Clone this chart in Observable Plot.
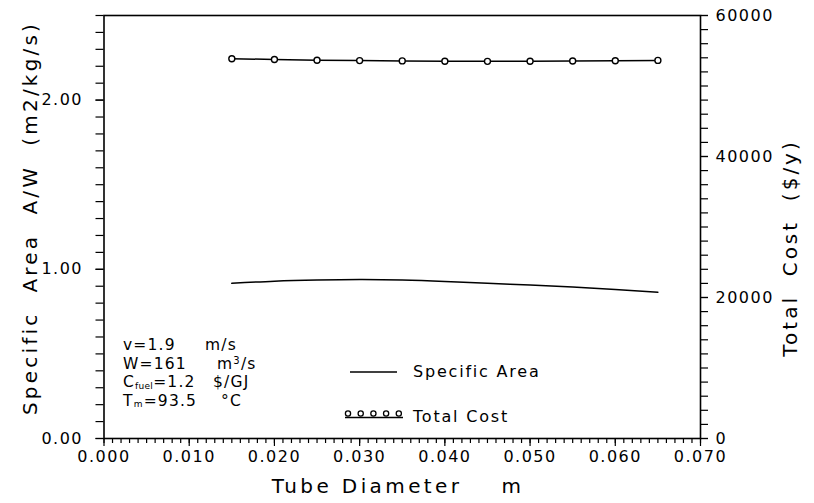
<!DOCTYPE html>
<html><head><meta charset="utf-8">
<script src="https://cdn.jsdelivr.net/npm/d3@7"></script>
<script src="https://cdn.jsdelivr.net/npm/@observablehq/plot@0.6"></script>
<style>
body{margin:0;background:#fff;}
#chart svg text{font-family:"DejaVu Sans",sans-serif;}
</style></head><body><div id="chart"></div>
<script>
// ---- data ----
const diameters = [0.015,0.020,0.025,0.030,0.035,0.040,0.045,0.050,0.055,0.060,0.065];
const specificArea = [0.917,0.930,0.937,0.940,0.937,0.928,0.917,0.907,0.895,0.881,0.864];
const totalCost = [53870,53760,53660,53600,53560,53520,53500,53510,53540,53580,53630];
const xTickLabels = [0,0.01,0.02,0.03,0.04,0.05,0.06,0.07];
const leftTickLabels = [0,1,2];
const rightTickLabels = [0,20000,40000,60000];
const xTitle = "Tube\u00a0Diameter\u00a0\u00a0\u00a0\u00a0m";
const leftTitle = "Specific\u00a0\u00a0Area\u00a0\u00a0A/W\u00a0\u00a0(m2/kg/s)";
const rightTitle = "Total\u00a0\u00a0Cost\u00a0\u00a0($/y)";
const legendLabels = ["Specific Area", "Total Cost"];

const costMax = 60000, areaMax = 2.5;
const toLeft = c => c * areaMax / costMax;
const rows = diameters.map((d,i)=>({d, area: specificArea[i], cost: totalCost[i]}));

const svg = Plot.plot({
  width: 814, height: 503,
  marginLeft: 103.5, marginRight: 114, marginTop: 15, marginBottom: 65,
  x: {domain:[0,0.07], label:null},
  y: {domain:[0,areaMax], label:null},
  style: {fontFamily:"DejaVu Sans, sans-serif", fontSize:"16px", color:"black", background:"white", letterSpacing:"1.5px"},
  marks: [
    Plot.axisX({ticks: d3.range(0,71).map(i=>i/1000), tickSize:5, tickFormat: ()=>"", strokeWidth:1.2, label:null}),
    Plot.axisX({ticks: xTickLabels, tickSize:8, tickPadding:4, tickFormat: d3.format(".3f"), strokeWidth:1.2, label:null}),
    Plot.axisY({ticks: d3.range(0,26).map(i=>i/10), tickSize:8, tickFormat: ()=>"", strokeWidth:1.2, label:null}),
    Plot.axisY({ticks: leftTickLabels, tickSize:8, tickPadding:13, tickFormat: d3.format(".2f"), strokeWidth:1.2, label:null}),
    Plot.axisY({anchor:"right", ticks: d3.range(0,31).map(i=>toLeft(i*2000)), tickSize:7, tickFormat: ()=>"", strokeWidth:1.2, label:null}),
    Plot.axisY({anchor:"right", ticks: rightTickLabels.map(toLeft), tickSize:7, tickPadding:8, tickFormat: v => String(Math.round(v*costMax/areaMax)), strokeWidth:1.2, label:null}),
    Plot.frame({stroke:"black", strokeWidth:1.6}),
    Plot.line(rows, {x:"d", y:"area", curve:"natural", stroke:"black", strokeWidth:1.5}),
    Plot.line(rows, {x:"d", y: r=>toLeft(r.cost), stroke:"black", strokeWidth:1.5}),
    Plot.dot(rows, {x:"d", y: r=>toLeft(r.cost), r:3, fill:"white", stroke:"black", strokeWidth:1.4})
  ]
});
document.getElementById("chart").appendChild(svg);

const s = d3.select(svg);
const g = s.append("g").attr("fill","black").attr("text-anchor","start").style("white-space","pre");
// axis titles
g.append("text").attr("x",398).attr("y",493).attr("text-anchor","middle")
  .attr("font-size",20).attr("letter-spacing","3.4px").text(xTitle);
g.append("text").attr("transform","translate(30,218) rotate(-90)").attr("dy","0.36em").attr("text-anchor","middle")
  .attr("font-size",20).attr("letter-spacing","3.2px").text(leftTitle);
g.append("text").attr("transform","translate(790,248) rotate(-90)").attr("dy","0.36em").attr("text-anchor","middle")
  .attr("font-size",20).attr("letter-spacing","3px").text(rightTitle);

// annotation block
const ann = g.append("g").attr("font-size",15.5).attr("letter-spacing","1.2px").attr("text-anchor","start");
ann.append("text").attr("x",123).attr("y",350).text("v=1.9");
ann.append("text").attr("x",205).attr("y",350).text("m/s");
ann.append("text").attr("x",123).attr("y",368.5).text("W=161");
const t2 = ann.append("text").attr("x",217).attr("y",368.5);
t2.append("tspan").text("m");
t2.append("tspan").attr("font-size",10).attr("dy",-5).text("3");
t2.append("tspan").attr("dy",5).text("/s");
const t3 = ann.append("text").attr("x",123).attr("y",387);
t3.append("tspan").text("C");
t3.append("tspan").attr("font-size",9).attr("dy",1.5).attr("letter-spacing","0.3px").text("fuel");
t3.append("tspan").attr("dy",-1.5).text("=1.2");
ann.append("text").attr("x",213).attr("y",387).text("$/GJ");
const t4 = ann.append("text").attr("x",123).attr("y",405.5);
t4.append("tspan").text("T");
t4.append("tspan").attr("font-size",9).attr("dy",1.5).text("m");
t4.append("tspan").attr("dy",-1.5).text("=93.5");
ann.append("text").attr("x",221).attr("y",405.5).text("\u00b0C");

// legend
const lg = g.append("g").attr("font-size",16).attr("letter-spacing","1.8px").attr("text-anchor","start");
lg.append("line").attr("x1",350).attr("x2",397).attr("y1",372).attr("y2",372).attr("stroke","black").attr("stroke-width",1.5);
lg.append("text").attr("x",413).attr("y",377).text(legendLabels[0]);
lg.append("line").attr("x1",345).attr("x2",403).attr("y1",417.5).attr("y2",417.5).attr("stroke","black").attr("stroke-width",1.5);
d3.range(5).forEach(i => lg.append("circle").attr("cx",348+i*12.7).attr("cy",413.5).attr("r",2.6)
  .attr("fill","white").attr("stroke","black").attr("stroke-width",1.3));
lg.append("text").attr("x",413).attr("y",422).text(legendLabels[1]);
</script></body></html>
